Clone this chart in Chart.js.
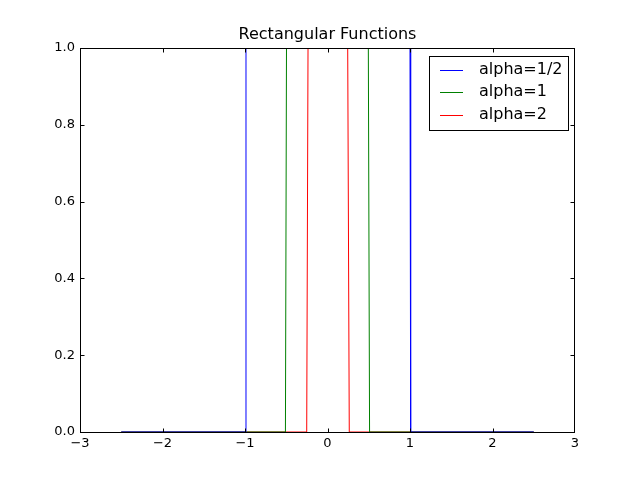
<!DOCTYPE html>
<html>
<head>
<meta charset="utf-8">
<script src="https://cdn.jsdelivr.net/npm/chart.js@4/dist/chart.umd.min.js"></script>
<style>
  html, body { margin: 0; padding: 0; background: #fff; }
  #wrap { width: 640px; height: 480px; }
</style>
</head>
<body>
<div id="wrap"><canvas id="myChart" width="640" height="480"></canvas></div>
<script>
const chartTitle = "Rectangular Functions";
const seriesLabels = ["alpha=1/2", "alpha=1", "alpha=2"];
const seriesColors = ["#0000ff", "#008000", "#ff0000"];

const halfX = [-2.5, -1.0, -0.988, 1.0, 1.008, 2.5];
const halfY = [0, 0, 1, 1, 0, 0];
const oneX = [-2.5, -0.51, -0.497, 0.495, 0.51, 2.5];
const oneY = [0, 0, 1, 1, 0, 0];
const twoX = [-2.5, -0.252, -0.236, 0.245, 0.264, 2.5];
const twoY = [0, 0, 1, 1, 0, 0];

const xTicks = [-3, -2, -1, 0, 1, 2, 3];
const yTicks = [0, 0.2, 0.4, 0.6, 0.8, 1.0];

const toPoints = (xs, ys) => xs.map((x, i) => ({ x: x, y: ys[i] }));
const allX = [halfX, oneX, twoX];
const allY = [halfY, oneY, twoY];

const FONT = "DejaVu Sans";

const framePlugin = {
  id: "frame",
  afterDraw(chart) {
    const c = chart.ctx;
    const a = chart.chartArea;
    const xs = chart.scales.x;
    const ys = chart.scales.y;
    const L = Math.round(a.left) + 0.5;
    const R = Math.round(a.right) - 0.5;
    const T = Math.round(a.top) + 0.5;
    const B = Math.round(a.bottom) + 0.5;
    c.save();
    c.strokeStyle = "#000";
    c.lineWidth = 1;
    // frame
    c.strokeRect(L, T, R - L, B - T);
    // inward ticks on all sides
    const len = 4;
    c.beginPath();
    xTicks.forEach(v => {
      const px = Math.min(R, Math.round(xs.getPixelForValue(v)) + 0.5);
      c.moveTo(px, B); c.lineTo(px, B - len);
      c.moveTo(px, T); c.lineTo(px, T + len);
    });
    yTicks.forEach(v => {
      const py = Math.round(ys.getPixelForValue(v)) + 0.5;
      c.moveTo(L, py); c.lineTo(L + len, py);
      c.moveTo(R, py); c.lineTo(R - len, py);
    });
    c.stroke();

    // title
    c.fillStyle = "#000";
    c.font = "16px '" + FONT + "'";
    c.textAlign = "center";
    c.textBaseline = "alphabetic";
    c.fillText(chartTitle, (a.left + a.right) / 2, 39);

    // legend
    c.fillStyle = "#fff";
    c.fillRect(429.5, 56.5, 139, 74);
    c.strokeStyle = "#000";
    c.strokeRect(429.5, 56.5, 139, 74);
    const rows = [69.5, 92, 114.5];
    c.font = "16px '" + FONT + "'";
    c.textAlign = "left";
    c.textBaseline = "middle";
    chart.data.datasets.forEach((ds, i) => {
      c.strokeStyle = ds.borderColor;
      c.beginPath();
      c.moveTo(440, Math.round(rows[i]) + 0.5);
      c.lineTo(463, Math.round(rows[i]) + 0.5);
      c.stroke();
      c.fillStyle = "#000";
      c.fillText(ds.label, 479, rows[i]);
    });
    c.restore();
  }
};

const ctx = document.getElementById("myChart").getContext("2d");

const myChart = new Chart(ctx, {
  type: "scatter",
  data: {
    datasets: seriesLabels.map((label, i) => ({
      label: label,
      data: toPoints(allX[i], allY[i]),
      showLine: true,
      borderColor: seriesColors[i],
      backgroundColor: seriesColors[i],
      borderWidth: 1,
      pointRadius: 0,
      tension: 0,
    })),
  },
  options: {
    responsive: false,
    animation: false,
    layout: { padding: { top: 48, right: 65, left: 0, bottom: 0 } },
    plugins: {
      legend: { display: false },
      title: { display: false },
      tooltip: { enabled: false },
    },
    scales: {
      x: {
        type: "linear",
        min: -3,
        max: 3,
        afterBuildTicks: (s) => { s.ticks = xTicks.map(v => ({ value: v })); },
        afterFit: (s) => { s.height = 48; },
        grid: { display: false, drawTicks: false },
        border: { display: false },
        ticks: {
          padding: 4,
          color: "#000",
          font: { family: FONT, size: 13 },
          callback: (v) => String(v).replace("-", "\u2212"),
        },
      },
      y: {
        type: "linear",
        min: 0,
        max: 1,
        afterBuildTicks: (s) => { s.ticks = yTicks.map(v => ({ value: v })); },
        afterFit: (s) => { s.width = 80; },
        grid: { display: false, drawTicks: false },
        border: { display: false },
        ticks: {
          padding: 5,
          color: "#000",
          font: { family: FONT, size: 13 },
          callback: (v) => Number(v).toFixed(1),
        },
      },
    },
  },
  plugins: [framePlugin],
});
</script>
</body>
</html>
